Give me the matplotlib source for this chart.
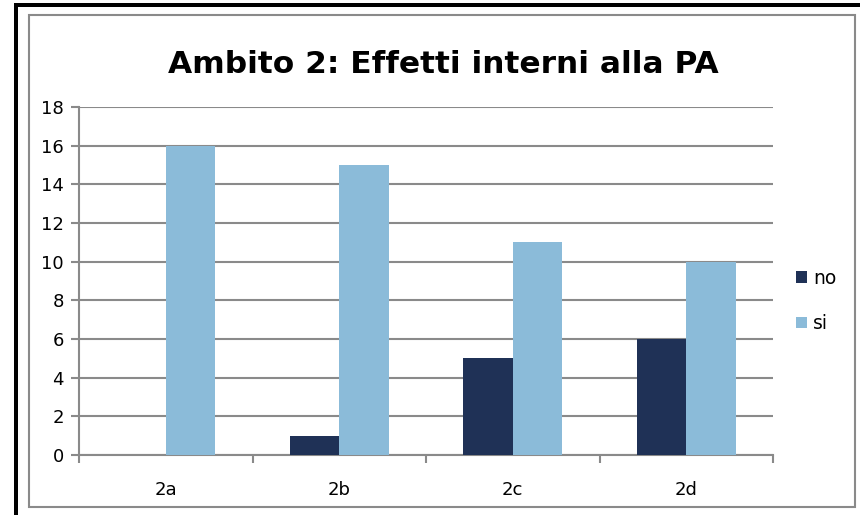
import matplotlib
matplotlib.use("Agg")
import matplotlib.pyplot as plt
import numpy as np
from matplotlib.patches import Rectangle

categories = ["2a", "2b", "2c", "2d"]
no_vals = [0, 1, 5, 6]
si_vals = [16, 15, 11, 10]
yticks = [0, 2, 4, 6, 8, 10, 12, 14, 16, 18]
title = "Ambito 2: Effetti interni alla PA"

W, H = 860, 515
fig = plt.figure(figsize=(W / 100, H / 100), dpi=100)
fig.patch.set_facecolor("white")

# outer black frame (left and top)
fig.add_artist(Rectangle((14 / W, 0), 4 / W, 1 - 3 / H, transform=fig.transFigure,
                         facecolor="black", edgecolor="none"))
fig.add_artist(Rectangle((14 / W, 1 - 7 / H), 1 - 14 / W, 4 / H, transform=fig.transFigure,
                         facecolor="black", edgecolor="none"))
# inner gray frame
fig.add_artist(Rectangle((29 / W, 1 - 507 / H), (855 - 29) / W, (507 - 15) / H,
                         transform=fig.transFigure, facecolor="none",
                         edgecolor="#8a8a8a", linewidth=1.5))

ax = fig.add_axes([79 / W, 1 - 455 / H, (773 - 79) / W, (455 - 107) / H])
x = np.arange(len(categories))
bw = 0.285
ax.bar(x - bw / 2, no_vals, bw, color="#1f3156", label="no", zorder=3)
ax.bar(x + bw / 2, si_vals, bw, color="#8bbbd9", label="si", zorder=3)

ax.set_xlim(-0.5, len(categories) - 0.5)
ax.set_ylim(0, 18)
ax.set_yticks(yticks)
ax.set_yticklabels([str(v) for v in yticks])
ax.yaxis.grid(True, color="#8a8a8a", linewidth=1.5, zorder=0)
ax.set_axisbelow(True)
ax.set_xticks(x)
ax.set_xticklabels(categories)
ax.set_xticks(np.arange(len(categories) + 1) - 0.5, minor=True)
ax.tick_params(axis="x", which="major", length=0, labelsize=13, pad=19)
ax.tick_params(axis="x", which="minor", length=6, width=1.5, color="#8a8a8a")
ax.tick_params(axis="y", length=6, width=1.5, color="#8a8a8a", labelsize=13, pad=5)
for s in ["top", "right"]:
    ax.spines[s].set_visible(False)
for s in ["left", "bottom"]:
    ax.spines[s].set_color("#8a8a8a")
    ax.spines[s].set_linewidth(1.5)

fig.text(443 / W, 1 - 65 / H, title, ha="center", va="center",
         fontsize=22.5, fontweight="bold")

fig.legend(loc="center left", bbox_to_anchor=(788 / W, 1 - 301 / H),
           frameon=False, fontsize=13.5, handlelength=0.6, handleheight=0.6,
           handletextpad=0.35, labelspacing=1.4, borderaxespad=0)

fig.savefig("out.png", dpi=100, facecolor="white")
